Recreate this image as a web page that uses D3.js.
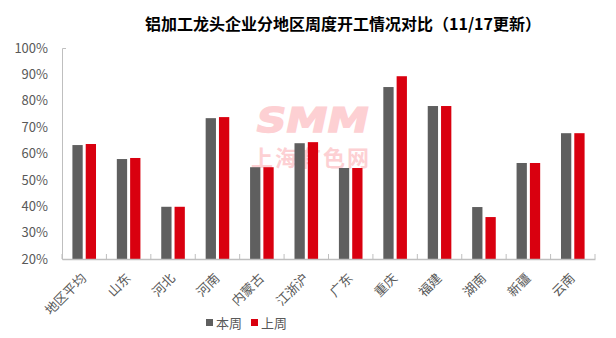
<!DOCTYPE html>
<html><head><meta charset="utf-8">
<script src="https://cdn.jsdelivr.net/npm/d3@7"></script>
<style>body{margin:0;background:#fff}svg{display:block}</style>
</head><body>
<svg id="c" width="616" height="338"></svg>
<script>
const title = "铝加工龙头企业分地区周度开工情况对比（11/17更新）";
const categories = ["地区平均","山东","河北","河南","内蒙古","江浙沪","广东","重庆","福建","湖南","新疆","云南"];
const seriesNames = ["本周","上周"];
const thisWeek = [63.2,57.9,39.8,73.4,54.8,63.9,54.5,85.2,78.0,39.7,56.4,67.7];
const lastWeek = [63.6,58.3,39.8,73.8,54.8,64.3,54.5,89.3,78.0,35.9,56.4,67.7];
const yTicks = [20,30,40,50,60,70,80,90,100];
const colors = ["#5f5f5f","#d9000f"];

const svg = d3.select("#c");
const font = "'Microsoft YaHei','Noto Sans CJK SC','Noto Sans',sans-serif";
const L = 62, R = 595, T = 48, B = 259;

// watermark
const wm = svg.append("g").attr("fill","#fdd0d3");
wm.append("text").attr("transform","translate(310,132) skewX(-12)").attr("text-anchor","middle")
  .attr("font-family","'DejaVu Sans',sans-serif").attr("font-weight","900")
  .attr("font-size",34).attr("textLength",112).attr("lengthAdjust","spacingAndGlyphs")
  .attr("stroke","#fdd0d3").attr("stroke-width",1.5).text("SMM");
wm.append("text").attr("x",310).attr("y",166).attr("text-anchor","middle")
  .attr("font-family","'Noto Sans CJK SC',sans-serif").attr("font-weight","bold").attr("font-size",22)
  .attr("textLength",118).attr("lengthAdjust","spacing").text("上海有色网");

const x0 = d3.scaleBand().domain(categories).range([L,R]).padding(0);
const x1 = d3.scaleBand().domain(seriesNames).range([0,23.6]).paddingInner(0.226);
const y = d3.scaleLinear().domain([20,100]).range([B,T]);

const data = categories.map((c,i)=>({c, vals:[thisWeek[i], lastWeek[i]]}));
const g = svg.append("g");
g.selectAll("g.cat").data(data).join("g")
  .attr("transform", d=>`translate(${x0(d.c)+x0.bandwidth()/2-11.8},0)`)
  .selectAll("rect").data(d=>d.vals.map((v,j)=>({v,s:seriesNames[j],j}))).join("rect")
  .attr("x", d=>x1(d.s)).attr("width", x1.bandwidth())
  .attr("y", d=>y(d.v)).attr("height", d=>B-y(d.v)).attr("fill", d=>colors[d.j]);

// y axis
const ya = svg.append("g").attr("transform",`translate(${L},0)`)
  .call(d3.axisLeft(y).tickValues(yTicks).tickFormat(d=>d+"%").tickSizeInner(0).tickSizeOuter(-4).tickPadding(14));
ya.select(".domain").attr("stroke","#bfbfbf");
ya.selectAll("text").attr("font-family",font).attr("font-size",13).attr("fill","#595959");

// x axis
const xa = svg.append("g").attr("transform",`translate(0,${B})`)
  .call(d3.axisBottom(x0).tickSize(0).tickFormat(""));
xa.select(".domain").attr("stroke","#bfbfbf").attr("stroke-width",1.3);
const bounds = categories.map(c=>x0(c)).concat([R]);
svg.append("g").selectAll("line").data(bounds).join("line")
  .attr("x1",d=>d).attr("x2",d=>d).attr("y1",B-5).attr("y2",B)
  .attr("stroke","#bfbfbf");
svg.append("g").selectAll("text").data(categories).join("text")
  .attr("transform", d=>`translate(${x0(d)+x0.bandwidth()/2+3},${B+20}) rotate(-45)`)
  .attr("text-anchor","end").attr("font-family",font).attr("font-size",13).attr("fill","#595959")
  .text(d=>d);

// title
svg.append("text").attr("x",343).attr("y",30).attr("text-anchor","middle")
  .attr("font-family",font).attr("font-weight","bold").attr("font-size",16).attr("fill","#000")
  .text(title);

// legend
const lg = svg.append("g");
const lx = [206, 251];
seriesNames.forEach((s,i)=>{
  lg.append("rect").attr("x",lx[i]).attr("y",319).attr("width",7).attr("height",7).attr("fill",colors[i]);
  lg.append("text").attr("x",lx[i]+10).attr("y",327.5).attr("font-family",font).attr("font-size",13)
    .attr("fill","#595959").text(s);
});
</script>
</body></html>
